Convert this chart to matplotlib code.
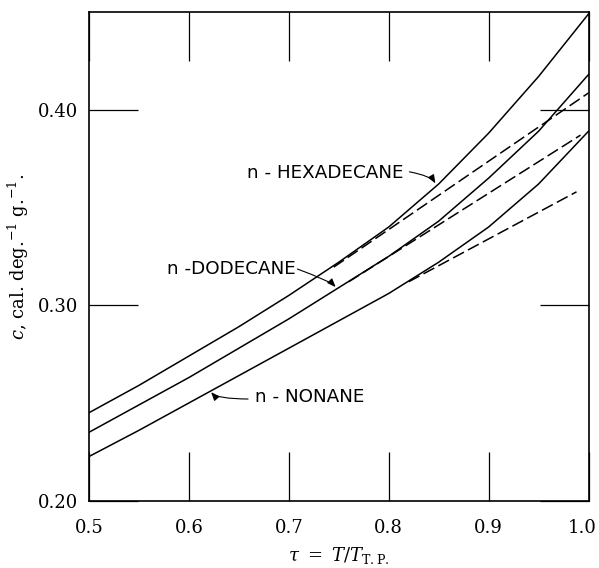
import numpy as np
import matplotlib
matplotlib.use("Agg")
import matplotlib.pyplot as plt
import matplotlib.transforms as mtransforms

plt.rcParams['font.family'] = 'DejaVu Serif'
plt.rcParams['mathtext.fontset'] = 'dejavuserif'

# reduced temperature tau = T / T_TP
tau = [0.50, 0.55, 0.60, 0.65, 0.70, 0.75, 0.80, 0.85, 0.90, 0.95, 1.00]

# specific heat, cal/(deg g)
hexadecane = [0.245, 0.259, 0.274, 0.289, 0.305, 0.322, 0.340, 0.362, 0.388, 0.417, 0.449]
dodecane = [0.235, 0.249, 0.263, 0.278, 0.293, 0.309, 0.325, 0.343, 0.365, 0.389, 0.418]
nonane = [0.2226, 0.236, 0.250, 0.264, 0.278, 0.292, 0.306, 0.322, 0.340, 0.362, 0.389]

# dashed extrapolations (start, end)
hexa_dash_x = [0.745, 1.0]
hexa_dash_y = [0.3195, 0.4086]
dodec_dash_x = [0.76, 0.992]
dodec_dash_y = [0.312, 0.387]
nonane_dash_x = [0.82, 0.988]
nonane_dash_y = [0.312, 0.358]

fig = plt.figure(figsize=(5.99, 5.68), dpi=100)
ax = fig.add_axes([0.1486, 0.1185, 0.8339, 0.8604])

lw = 1.1
ax.plot(tau, hexadecane, color='black', lw=lw)
ax.plot(tau, dodecane, color='black', lw=lw)
ax.plot(tau, nonane, color='black', lw=lw)

dash = (0, (8, 3))
ax.plot(hexa_dash_x, hexa_dash_y, color='black', lw=lw, linestyle=dash)
ax.plot(dodec_dash_x, dodec_dash_y, color='black', lw=lw, linestyle=dash)
ax.plot(nonane_dash_x, nonane_dash_y, color='black', lw=lw, linestyle=dash)

ax.set_xlim(0.5, 1.0)
ax.set_ylim(0.2, 0.45)
ax.set_xticks([0.5, 0.6, 0.7, 0.8, 0.9, 1.0])
ax.set_xticklabels(['0.5', '0.6', '0.7', '0.8', '0.9', '1.0'])
ax.set_yticks([0.2, 0.3, 0.4])
ax.set_yticklabels(['0.20', '0.30', '0.40'])
ax.tick_params(axis='x', direction='in', length=35, width=0.9, top=True, pad=13, labelsize=13)
ax.tick_params(axis='y', direction='in', length=35, width=0.9, right=True, pad=8, labelsize=13)
for s in ax.spines.values():
    s.set_linewidth(1.2)

# last x label sits inside the figure edge
last = ax.get_xticklabels()[-1]
last.set_horizontalalignment('right')
last.set_transform(last.get_transform() + mtransforms.ScaledTranslation(8 / 100, 0, fig.dpi_scale_trans))

ax.set_xlabel(r'$\tau\ =\ T/T_{\mathrm{T.P.}}$', fontsize=13, labelpad=6)
ax.set_ylabel(r'$c$, cal. deg.$^{-1}$ g.$^{-1}$.', fontsize=13, labelpad=5)

# curve labels with squiggly leaders
lab = dict(fontsize=13.2, family='DejaVu Sans', color='black')
ax.text(0.658, 0.3678, 'n - HEXADECANE', ha='left', va='center', **lab)
ax.text(0.578, 0.3183, 'n -DODECANE', ha='left', va='center', **lab)
ax.text(0.666, 0.2532, 'n - NONANE', ha='left', va='center', **lab)

arr = dict(arrowstyle='-|>,head_length=0.5,head_width=0.2', color='black', lw=0.8)
ax.annotate('', xy=(0.8477, 0.3610), xytext=(0.818, 0.3685),
            arrowprops=dict(connectionstyle='angle3,angleA=-10,angleB=-80', **arr))
ax.annotate('', xy=(0.748, 0.3080), xytext=(0.706, 0.3190),
            arrowprops=dict(connectionstyle='angle3,angleA=-20,angleB=80', **arr))
ax.annotate('', xy=(0.621, 0.2568), xytext=(0.662, 0.2520),
            arrowprops=dict(connectionstyle='angle3,angleA=180,angleB=100', **arr))

fig.savefig('out.png', dpi=100)
